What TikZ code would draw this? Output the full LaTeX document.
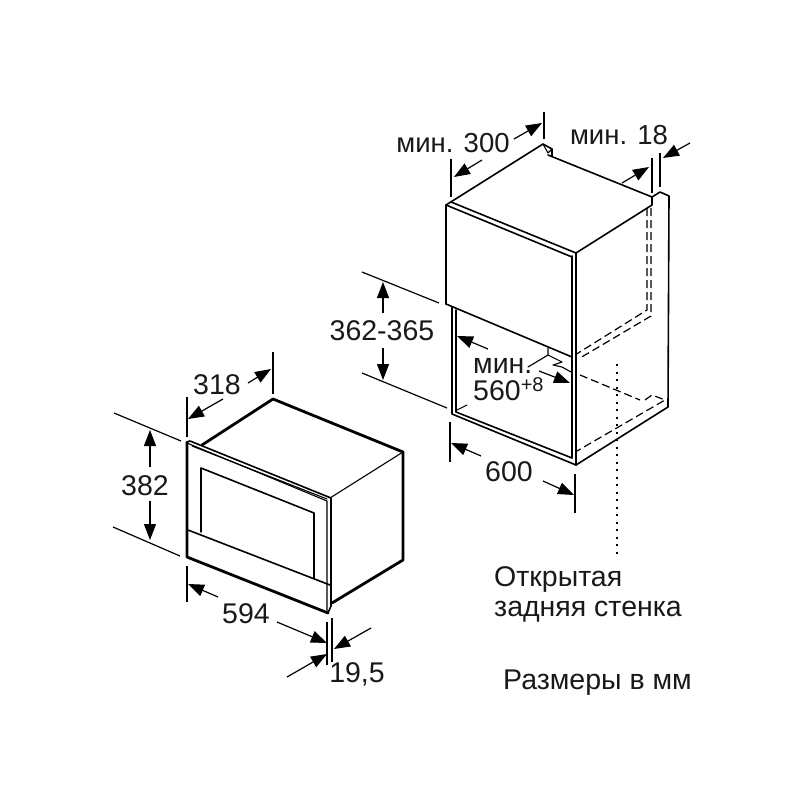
\documentclass[tikz,border=0pt]{standalone}
\usepackage{fontspec}
\setmainfont{Liberation Sans}
\usetikzlibrary{arrows.meta}
\tikzset{
  x=1pt,y=-1pt,
  thinl/.style={line width=1.1pt,line cap=round,line join=round},
  med/.style={line width=1.6pt,line cap=round,line join=round},
  heavy/.style={line width=2.8pt,line cap=round,line join=round},
  hid/.style={line width=1.2pt,dash pattern=on 8pt off 4pt},
  ext/.style={line width=1.2pt},
  dim/.style={line width=1.2pt,-{Triangle[length=16pt,width=12pt]}},
  lab/.style={font=\fontsize{28.5}{32}\selectfont,inner sep=0pt,text=black!90},
  labsmall/.style={font=\fontsize{27.5}{32}\selectfont,inner sep=0pt,text=black!90}
}
\begin{document}
\begin{tikzpicture}
\useasboundingbox (0,0) rectangle (800,800);
% ---- microwave
\draw[heavy] (202,445)--(273,399)--(403,452)--(403,560)--(332,603);
\draw[heavy] (187,442)--(187,557)--(328,613);
\draw[thinl] (330,498)--(403,452);
\draw[med] (187,442)--(190,441)--(331,498)--(331,606)--(328,613);
\draw[thinl] (187,443)--(327,501)--(327,612);
\draw[thinl] (192,446)--(327,499);
\draw[med] (201,532)--(201,468)--(314,513)--(314,578);
\draw[med] (188,530)--(330,585);
% ---- cabinet, upper box
\draw[med] (446,304)--(446,205)--(543,144)--(552,149)--(552,156);
\draw[thinl] (543,144)--(548,153)--(552,149);
\draw[med] (548,155)--(652,197)--(660,192)--(669,196)--(668,407)--(576,465);
\draw[med] (446,205)--(572,257);
\draw[med] (451,202)--(576,253)--(652,205)--(652,197);
\draw[med] (446,304)--(572,357);
\draw[med] (572,256)--(572,458);
\draw[med] (576,253)--(576,465);
% ---- cabinet, lower part
\draw[med] (452,307)--(452,414)--(576,465);
\draw[med] (456,310)--(456,412)--(572,458);
\draw[thinl] (457,410)--(467,405);
\draw[thinl] (528,367)--(548,355)--(548,348);
\draw[thinl] (548,355)--(562,362)--(553,365)--(562,367)--(571,372);
% ---- hidden lines
\draw[hid] (647,208)--(647,310)--(575,355);
\draw[hid] (651,208)--(651,316)--(580,358);
\draw[hid] (580,375)--(640,400);
\draw[hid] (645,400)--(652,395)--(665,400)--(577,451);
\draw[line width=2pt,dash pattern=on 2pt off 5.5pt] (617,364)--(617,558);
% ---- dimensions, microwave
\draw[ext] (187,397)--(187,437) (273,352)--(273,394);
\draw[dim] (223,399)--(188,419);
\draw[dim] (248,383)--(271,369);
\node[lab] (d318) at (217,385) {318};
\draw[ext] (114,413)--(181,441) (113,527)--(180,556);
\draw[dim] (150,467)--(150,430);
\draw[dim] (150,501)--(150,540);
\node[lab] (d382) at (145,486) {382};
\draw[ext] (187,566)--(187,602);
\draw[dim] (218,597)--(188,584);
\draw[dim] (277,622)--(327,643);
\node[lab] (d594) at (246,614) {594};
\draw[ext] (327,622)--(327,665) (332,618)--(332,662);
\draw[dim] (287,677)--(327,654);
\draw[dim] (371,628)--(334,649);
\node[lab] (d195) at (357,674) {19,5};
% ---- dimensions, cabinet
\draw[ext] (451,159)--(451,197) (544,112)--(544,139);
\draw[dim] (482,160)--(454,177);
\draw[dim] (514,139)--(542,123);
\node[labsmall] (d300) at (453,143) {мин. 300};
\draw[ext] (652,158)--(652,193) (660,153)--(660,187);
\draw[dim] (622,183)--(649,167);
\draw[dim] (690,143)--(663,158);
\node[labsmall] (d18) at (619,135) {мин. 18};
\draw[ext] (362,272)--(439,303) (362,373)--(447,408);
\draw[dim] (383,313)--(383,282);
\draw[dim] (383,348)--(383,380);
\node[lab] (d362) at (382,331) {362-365};
\draw[dim] (488,349)--(457,336);
\draw[dim] (539,371)--(570,383);
\node[lab,anchor=base west] (dmin) at (473,373) {мин.};
\node[lab,anchor=base west] (d560) at (473,400) {560\raisebox{9pt}{\fontsize{20}{20}\selectfont +8}};
\draw[ext] (450,422)--(450,462) (575,474)--(575,513);
\draw[dim] (481,456)--(451,443);
\draw[dim] (543,481)--(574,495);
\node[lab] (d600) at (509,472) {600};
% ---- notes
\node[lab,anchor=base west] (n1) at (494,586) {Открытая};
\node[lab,anchor=base west] (n2) at (494,616) {задняя стенка};
\node[lab,anchor=base west] (n3) at (503,689) {Размеры в мм};
\end{tikzpicture}
\end{document}
